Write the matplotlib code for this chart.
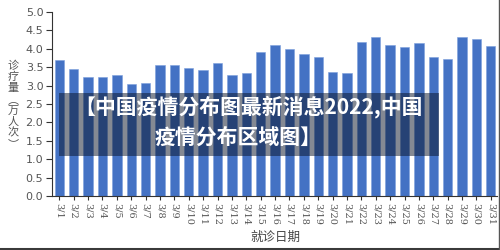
import matplotlib
matplotlib.use("Agg")
import matplotlib.pyplot as plt
from matplotlib.patches import Rectangle
from matplotlib.lines import Line2D

plt.rcParams['font.family'] = ['Noto Sans CJK SC', 'DejaVu Sans']

dates = [f"3/{d}" for d in range(1, 32)]
visits = [3.70, 3.44, 3.24, 3.24, 3.28, 3.04, 3.06, 3.56, 3.56, 3.48,
          3.42, 3.61, 3.28, 3.34, 3.90, 4.10, 3.99, 3.85, 3.79, 3.36,
          3.33, 4.19, 4.32, 4.10, 4.06, 4.17, 3.79, 3.71, 4.32, 4.27, 4.08]
yticks = [0.0, 0.5, 1.0, 1.5, 2.0, 2.5, 3.0, 3.5, 4.0, 4.5, 5.0]
ylabel_chars = ["诊", "疗", "量", "︵", "万", "人", "次", "︶"]
xlabel = "就诊日期"
banner_lines = ["【中国疫情分布图最新消息2022,中国", "疫情分布区域图】"]

W, H = 500, 250
fig = plt.figure(figsize=(5, 2.5), dpi=100)
fig.patch.set_facecolor("white")
ax = fig.add_axes([51.7 / W, 1 - 196 / H, (497 - 51.7) / W, (196 - 12) / H])

x = list(range(len(dates)))
ax.bar(x, visits, width=0.65, color="#4472C4", edgecolor="#7d9fdc", linewidth=0.4)

ax.set_xlim(-0.53, len(dates) - 1 + 0.43)
ax.set_ylim(0, 5.0)
ax.set_yticks(yticks)
ax.set_yticklabels([f"{v:.1f}" for v in yticks], fontsize=8, color="#555555",
                   family="DejaVu Sans")
ax.set_xticks(x)
ax.set_xticklabels(dates, rotation=-90, fontsize=7, color="#555555",
                   family="DejaVu Serif")
ax.tick_params(axis="y", length=4, width=0.8, color="#333333", pad=2)
ax.tick_params(axis="x", length=3, width=0.8, color="#333333", pad=2)
for s in ["top", "right"]:
    ax.spines[s].set_visible(False)
for s in ["left", "bottom"]:
    ax.spines[s].set_color("#333333")
    ax.spines[s].set_linewidth(0.8)

# y label: stacked vertical characters
y0 = 66
for i, ch in enumerate(ylabel_chars):
    fig.text(13 / W, 1 - (y0 + i * 11.2) / H, ch, ha="center", va="center",
             fontsize=8, color="#555555")

fig.text(275 / W, 1 - 237 / H, xlabel, ha="center", va="center",
         fontsize=9, color="#444444")

# overlay banner
fig.patches.append(Rectangle((59 / W, 1 - 156 / H), (439 - 59) / W, (156 - 93) / H,
                             transform=fig.transFigure, facecolor="#0a1428",
                             alpha=0.5, edgecolor="none", zorder=5))
fig.text(249 / W, 1 - 107 / H, banner_lines[0], ha="center", va="center",
         fontsize=15, color="white", fontweight="bold", zorder=6)
fig.text(238 / W, 1 - 137 / H, banner_lines[1], ha="center", va="center",
         fontsize=15, color="white", fontweight="bold", zorder=6)

# frame lines at bottom and right
fig.lines.append(Line2D([0, 1], [1.5 / H, 1.5 / H], transform=fig.transFigure,
                        color="#3a3a3a", linewidth=2.2))
fig.lines.append(Line2D([1 - 1 / W, 1 - 1 / W], [0, 1], transform=fig.transFigure,
                        color="#555555", linewidth=1.0))

fig.savefig("out.png", dpi=100)
